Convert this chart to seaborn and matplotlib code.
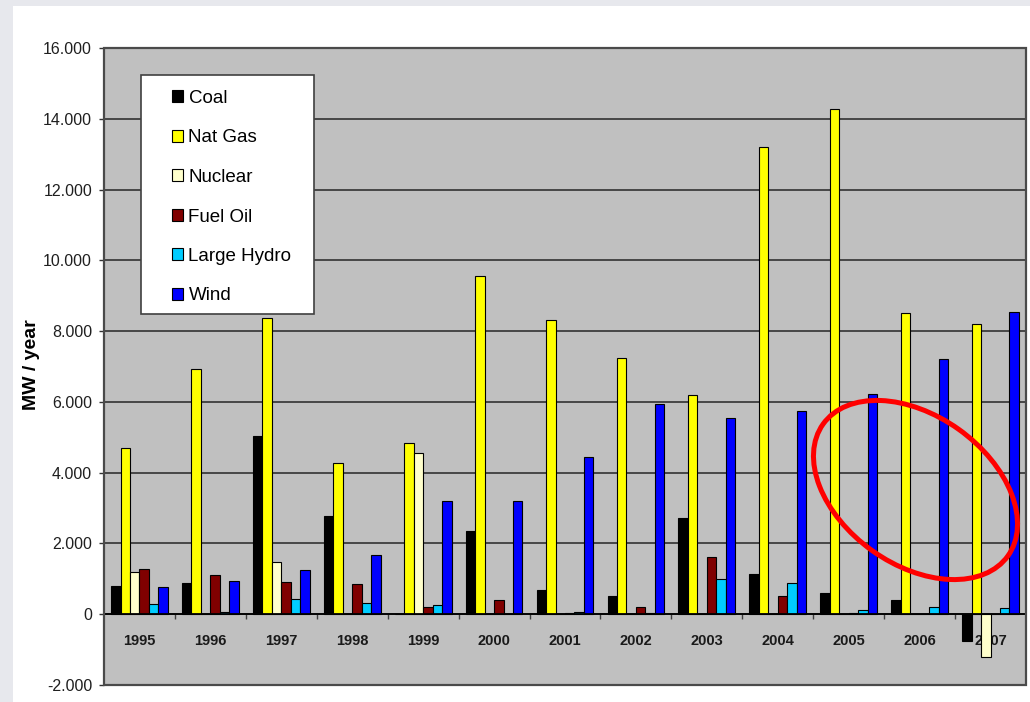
import matplotlib
matplotlib.use("Agg")
import matplotlib.pyplot as plt
from matplotlib.patches import Patch, Rectangle, Ellipse
from matplotlib.ticker import FixedLocator, FuncFormatter
import pandas as pd
import seaborn as sns

# Yearly capacity additions (MW / year) by source
years = ["1995", "1996", "1997", "1998", "1999", "2000", "2001",
         "2002", "2003", "2004", "2005", "2006", "2007"]
sources = ["Coal", "Nat Gas", "Nuclear", "Fuel Oil", "Large Hydro", "Wind"]
coal = [790, 875, 5044, 2785, 0, 2361, 678, 525, 2720, 1147, 610, 404, -754]
nat_gas = [4705, 6936, 8359, 4281, 4846, 9562, 8302, 7238, 6184, 13216, 14270, 8500, 8207]
nuclear = [1203, 0, 1485, 0, 4555, 0, 0, 0, 0, 0, 0, 0, -1197]
fuel_oil = [1270, 1110, 904, 847, 215, 395, 40, 215, 1627, 517, 30, 0, 0]
large_hydro = [300, 60, 424, 328, 271, 0, 60, 25, 1005, 875, 121, 215, 186]
wind = [762, 940, 1243, 1666, 3200, 3200, 4434, 5939, 5552, 5741, 6213, 7201, 8537]
colors = ["#000000", "#FFFF00", "#FFFFCC", "#800000", "#00CCFF", "#0000FF"]
y_ticks = list(range(-2000, 16001, 2000))

series = [coal, nat_gas, nuclear, fuel_oil, large_hydro, wind]
df = pd.DataFrame(
    [(yr, src, vals[i]) for src, vals in zip(sources, series) for i, yr in enumerate(years)],
    columns=["year", "source", "mw"],
)

plt.rcParams["font.family"] = ["Liberation Sans", "DejaVu Sans"]

W, H = 1030, 702
fig = plt.figure(figsize=(W / 100, H / 100), dpi=100)
fig.patch.set_facecolor("#e7e8ed")
fig.add_artist(Rectangle((13 / W, 0), 1 - 13 / W, (H - 6) / H,
                         transform=fig.transFigure, facecolor="white",
                         edgecolor="none", zorder=-10))

ax = fig.add_axes([104 / W, (H - 685) / H, (1026 - 104) / W, (685 - 48) / H])
ax.set_facecolor("#C0C0C0")

sns.barplot(data=df, x="year", y="mw", hue="source", order=years,
            hue_order=sources, palette=colors, saturation=1, width=0.8,
            errorbar=None, edgecolor="black", linewidth=0.8, legend=False, ax=ax)

ax.set_xlim(-0.5, len(years) - 0.5)
ax.set_ylim(-2000, 16000)
ax.set_axisbelow(True)
ax.yaxis.set_major_locator(FixedLocator(y_ticks))
ax.yaxis.set_major_formatter(
    FuncFormatter(lambda v, _: f"{v:,.0f}".replace(",", ".")))
ax.yaxis.grid(True, color="#262626", linewidth=1.1)
ax.xaxis.grid(False)

for side in ["left", "right", "top"]:
    ax.spines[side].set_visible(False)
ax.spines["bottom"].set_position(("data", 0))
ax.spines["bottom"].set_color("black")
ax.spines["bottom"].set_linewidth(1.3)
ax.add_patch(Rectangle((0, 0), 1, 1, transform=ax.transAxes, fill=False,
                       edgecolor="#4a4a4a", linewidth=1.6, clip_on=False, zorder=3))

ax.tick_params(axis="y", direction="out", length=3.6, width=1, color="#333333",
               pad=5, labelsize=11.5, labelcolor="#1f1f1f")
ax.set_xticks(range(len(years)))
ax.set_xticklabels(years, fontweight="bold")
ax.set_xticks([i + 0.5 for i in range(len(years) - 1)], minor=True)
ax.tick_params(axis="x", which="major", length=0, pad=14, labelsize=10.5,
               labelcolor="#1a1a1a")
ax.tick_params(axis="x", which="minor", direction="out", length=3.6, width=1,
               color="#404040")
ax.set_xlabel("")
ax.set_ylabel("MW / year", fontsize=14, fontweight="bold", color="black")
ax.yaxis.set_label_coords(-0.069, 0.503)

# Legend box
ax.add_patch(Rectangle(((141 - 104) / 922, (685 - 314) / 637), 173 / 922, 239 / 637,
                       transform=ax.transAxes, facecolor="white",
                       edgecolor="#404040", linewidth=1.2, clip_on=False, zorder=4))
handles = [Patch(facecolor=c, edgecolor="black", linewidth=0.8, label=s)
           for s, c in zip(sources, colors)]
leg = ax.legend(handles=handles, loc="upper left",
                bbox_to_anchor=((172 - 104) / 922, (685 - 90) / 637),
                frameon=False, borderpad=0, borderaxespad=0, fontsize=13.5,
                handlelength=0.6, handleheight=0.6, handletextpad=0.28,
                labelspacing=1.2)
leg.set_zorder(5)

# Highlight around the recent years
fig.add_artist(Ellipse((9.155, 2.12), 2.27, 1.49, angle=-35.5,
                       transform=fig.dpi_scale_trans, fill=False,
                       edgecolor="#FF0000", linewidth=3.6, zorder=10))

fig.savefig("out.png", dpi=100)
